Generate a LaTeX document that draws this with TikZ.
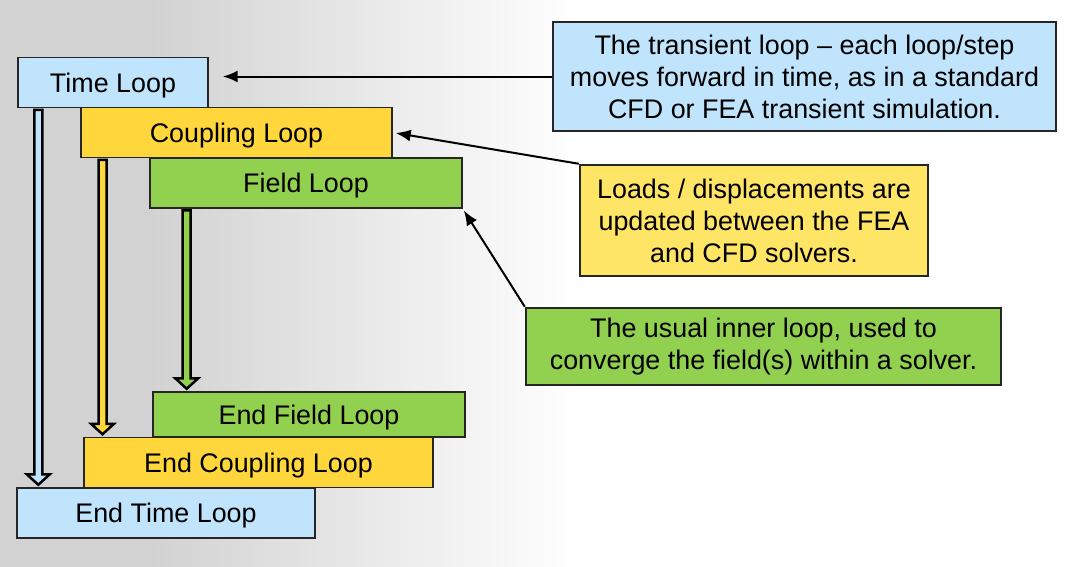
\documentclass[tikz,border=0pt]{standalone}
\usepackage{fontspec}
\setmainfont{Liberation Sans}
\usepackage{tikz}
\usetikzlibrary{calc,arrows.meta}

\definecolor{bggray}{HTML}{D2D2D2}
\definecolor{timeblue}{HTML}{C0E4FC}
\definecolor{coupyellow}{HTML}{FFD73C}
\definecolor{fieldgreen}{HTML}{92D050}
\definecolor{noteyellow}{HTML}{FFE566}

% block arrow between two loop boxes: shaft position, from, to, fill
\newcommand{\looparrow}[4]{%
  \draw [blockarrow, fill=#4]
    ($(#2.south -| #1)+(-4,1.5)$) -- ($(#3.north -| #1)+(-4,-13)$)
    -- ($(#3.north -| #1)+(-11.5,-13)$) -- ($(#3.north -| #1)+(0,-2.5)$)
    -- ($(#3.north -| #1)+(11.5,-13)$) -- ($(#3.north -| #1)+(4,-13)$)
    -- ($(#2.south -| #1)+(4,1.5)$) -- cycle;}

\begin{document}
\begin{tikzpicture}[x=0.02cm, y=-0.02cm,
    loopbox/.style={draw=black!85, line width=0.03cm, minimum height=1cm, inner sep=0pt,
      text depth=0pt, font=\fontsize{15.3}{18.2}\selectfont},
    notebox/.style={draw=black!85, line width=0.05cm, inner sep=0pt, align=center,
      font=\fontsize{15.3}{18.2}\selectfont},
    pointer/.style={-{Latex[length=0.3cm,width=0.24cm]}, line width=0.04cm},
    blockarrow/.style={draw=black, line width=0.05cm, line join=miter}]
  \useasboundingbox (0,0) rectangle (1071,566);

  % Background
  \fill [bggray] (-5,-5) rectangle (151,571);
  \shade [left color=bggray, right color=white] (150,-5) rectangle (580,571);

  % Loop boxes
  \node [loopbox, fill=timeblue, minimum width=3.8cm] (time) at (113,82.5) {Time Loop};
  \node [loopbox, fill=coupyellow, minimum width=6.22cm] (coupling) at (236.5,132.5) {Coupling Loop};
  \node [loopbox, fill=fieldgreen, minimum width=6.24cm] (field) at (306,183) {Field Loop};
  \node [loopbox, fill=fieldgreen, minimum width=6.24cm, minimum height=0.9cm] (endfield) at (309,414.5) {End Field Loop};
  \node [loopbox, fill=coupyellow, minimum width=6.98cm] (endcoupling) at (258.5,462.5) {End Coupling Loop};
  \node [loopbox, fill=timeblue, minimum width=5.96cm] (endtime) at (166,513) {End Time Loop};

  % Block arrows
  \coordinate (timeshaft) at (38.3,0);
  \coordinate (couplingshaft) at (102.5,0);
  \coordinate (fieldshaft) at (186.7,0);
  \looparrow{timeshaft}{time}{endtime}{timeblue}
  \looparrow{couplingshaft}{coupling}{endcoupling}{coupyellow}
  \looparrow{fieldshaft}{field}{endfield}{fieldgreen}

  % Notes
  \node [notebox, fill=timeblue, minimum width=10.06cm, minimum height=2.18cm] (transient) at (804.5,76.5)
    {The transient loop -- each loop/step\\moves forward in time, as in a standard\\CFD or FEA transient simulation.};
  \node [notebox, fill=noteyellow, minimum width=6.96cm, minimum height=2.22cm] (loads) at (754,220.5)
    {Loads / displacements are\\updated between the FEA\\and CFD solvers.};
  \node [notebox, fill=fieldgreen, minimum width=9.5cm, minimum height=1.54cm] (inner) at (763.5,346.5)
    {The usual inner loop, used to\\converge the field(s) within a solver.};

  % Pointers
  \draw [pointer, shorten >=0.28cm] (transient.west) -- (transient.west -| time.east);
  \draw [pointer, shorten >=0.06cm] (loads.north west) -- (coupling.east);
  \draw [pointer, shorten >=0.04cm] (inner.north west) -- (field.south east);
\end{tikzpicture}
\end{document}
